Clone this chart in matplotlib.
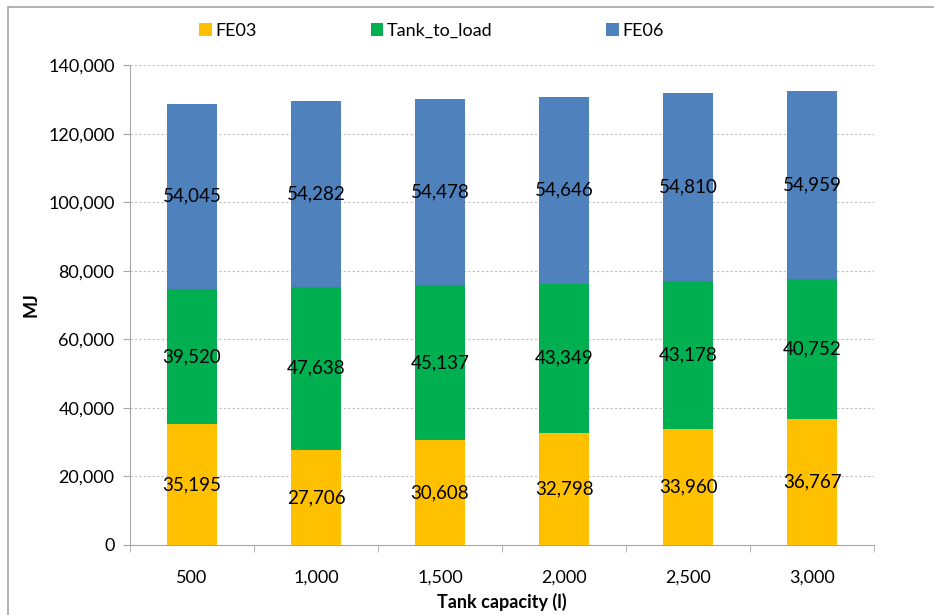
import numpy as np
import matplotlib.pyplot as plt
from matplotlib.patches import Rectangle

plt.rcParams['font.family'] = ['Lato', 'DejaVu Sans']

capacities = ["500", "1,000", "1,500", "2,000", "2,500", "3,000"]
fe03 = [35195, 27706, 30608, 32798, 33960, 36767]
tank_to_load = [39520, 47638, 45137, 43349, 43178, 40752]
fe06 = [54045, 54282, 54478, 54646, 54810, 54959]

series = [("FE03", fe03, "#FFC000"),
          ("Tank_to_load", tank_to_load, "#00B050"),
          ("FE06", fe06, "#4F81BD")]

fig = plt.figure(figsize=(9.34, 6.15), dpi=100)
ax = fig.add_axes([0.139, 0.114, 0.797, 0.780])

x = np.arange(len(capacities))
bottom = np.zeros(len(capacities))
for name, vals, color in series:
    vals = np.array(vals, dtype=float)
    ax.bar(x, vals, width=0.4, bottom=bottom, color=color, label=name, zorder=3)
    for xi, b, v in zip(x, bottom, vals):
        ax.text(xi, b + v / 2, f"{int(v):,}", ha="center", va="center",
                fontsize=13.5, color="black", zorder=4)
    bottom += vals

ax.set_xlim(-0.5, len(capacities) - 0.5)
ax.set_ylim(0, 140000)
ax.set_yticks(np.arange(0, 140001, 20000))
ax.set_yticklabels([f"{v:,}" for v in range(0, 140001, 20000)], fontsize=13)
ax.set_xticks(x)
ax.set_xticklabels(capacities, fontsize=13)
ax.set_xticks(np.arange(-0.5, len(capacities)), minor=True)
ax.tick_params(axis="x", which="major", length=0, pad=18)
ax.tick_params(axis="x", which="minor", length=5, color="#A6A6A6")
ax.tick_params(axis="y", length=5, color="#A6A6A6", pad=6)

for yv in range(20000, 140001, 20000):
    ax.axhline(yv, color="#BFBFBF", linestyle=(0, (2, 2)), linewidth=0.8, zorder=1)

for s in ["top", "right"]:
    ax.spines[s].set_visible(False)
for s in ["left", "bottom"]:
    ax.spines[s].set_color("#A6A6A6")

ax.set_xlabel("Tank capacity (l)", fontsize=13, fontweight="bold", labelpad=5)
ax.set_ylabel("MJ", fontsize=13, fontweight="bold", labelpad=6)

fig.legend(loc="center", bbox_to_anchor=(0.462, 0.95), ncol=3, frameon=False,
           fontsize=13, handlelength=0.7, handleheight=0.7, handletextpad=0.2,
           columnspacing=6.3)

# outer chart border
fig.patches.append(Rectangle((0.009, -0.1), 1.2, 1.089, transform=fig.transFigure,
                             fill=False, edgecolor="#A6A6A6", linewidth=1.2))

fig.savefig("out.png", dpi=100)
